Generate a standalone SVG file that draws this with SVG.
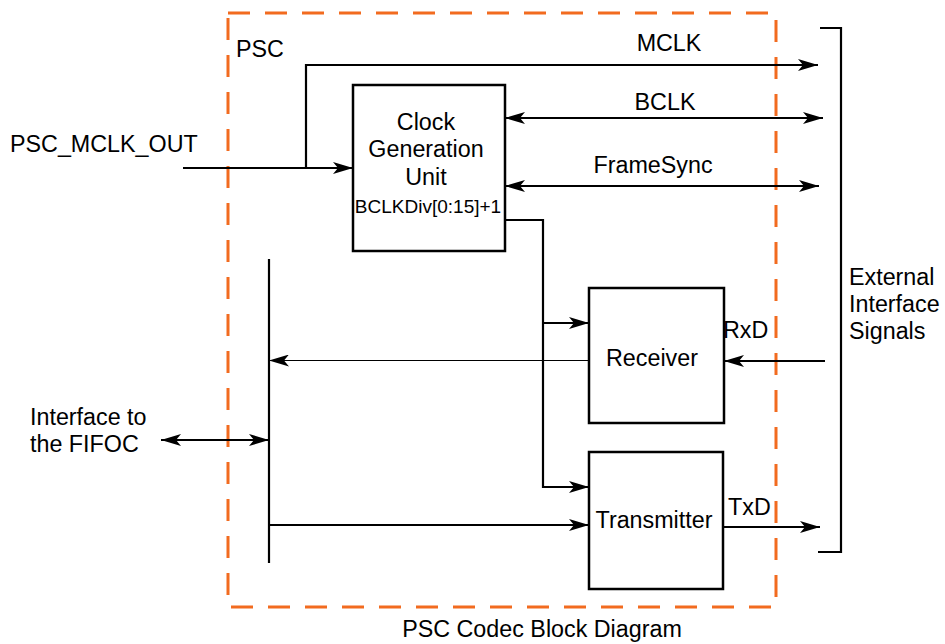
<svg xmlns="http://www.w3.org/2000/svg" width="945" height="644" viewBox="0 0 945 644">
<style>
text{font-family:"Liberation Sans",Arial,Helvetica,sans-serif;font-size:23.3px;fill:#000}
.box{fill:#fff;stroke:#000;stroke-width:2.5}
.ln{fill:none;stroke:#000;stroke-width:2.2}
.thin{fill:none;stroke:#000;stroke-width:1.2}
.m{text-anchor:middle}
</style>
<defs>
<marker id="ah" markerUnits="userSpaceOnUse" markerWidth="20" markerHeight="12" refX="20" refY="6" orient="auto-start-reverse" viewBox="0 0 20 12">
<path d="M0,0 L20,6 L0,12 L5,6 Z" fill="#000"/>
</marker>
</defs>
<rect x="228" y="13" width="548" height="594" fill="none" stroke="#F26B1F" stroke-width="3" stroke-dasharray="22 15"/>
<text x="236" y="57">PSC</text>
<g id="connectors">
<path class="ln" d="M183,168 H353" marker-end="url(#ah)"/>
<path class="ln" d="M306,168 V65 H818" marker-end="url(#ah)"/>
<path class="ln" d="M505,118 H823" marker-start="url(#ah)" marker-end="url(#ah)"/>
<path class="ln" d="M505,186 H819" marker-start="url(#ah)" marker-end="url(#ah)"/>
<path class="ln" d="M505,220 H543 V487 H589" marker-end="url(#ah)"/>
<path class="ln" d="M543,323 H589" marker-end="url(#ah)"/>
<path class="ln" d="M825,361 H724" marker-end="url(#ah)"/>
<path class="thin" d="M589,360.5 H269" marker-end="url(#ah)"/>
<path class="ln" d="M269,259 V563"/>
<path class="ln" d="M269,525 H589" marker-end="url(#ah)"/>
<path class="ln" d="M723,527 H820" marker-end="url(#ah)"/>
<path class="ln" d="M161,440 H269" marker-start="url(#ah)" marker-end="url(#ah)"/>
<path class="ln" d="M820,28 H841 V552 H818"/>
</g>
<g id="cgu">
<rect class="box" x="353" y="85" width="152" height="166"/>
<text class="m" x="426" y="130">Clock</text>
<text class="m" x="426" y="157">Generation</text>
<text class="m" x="426" y="185">Unit</text>
<text class="m" x="428" y="213" style="font-size:19px">BCLKDiv[0:15]+1</text>
</g>
<g id="receiver">
<rect class="box" x="589" y="288" width="135" height="135"/>
<text class="m" x="652" y="366">Receiver</text>
</g>
<g id="transmitter">
<rect class="box" x="589" y="452" width="134" height="137"/>
<text class="m" x="654" y="528">Transmitter</text>
</g>
<g id="labels">
<text x="10" y="152">PSC_MCLK_OUT</text>
<text class="m" x="669" y="51">MCLK</text>
<text class="m" x="665" y="110">BCLK</text>
<text class="m" x="653" y="173">FrameSync</text>
<text x="723" y="338">RxD</text>
<text x="728" y="515">TxD</text>
<text x="849" y="285">External</text>
<text x="849" y="312">Interface</text>
<text x="849" y="339">Signals</text>
<text x="30" y="425">Interface to</text>
<text x="30" y="452">the FIFOC</text>
<text class="m" x="542" y="637">PSC Codec Block Diagram</text>
</g>
</svg>
